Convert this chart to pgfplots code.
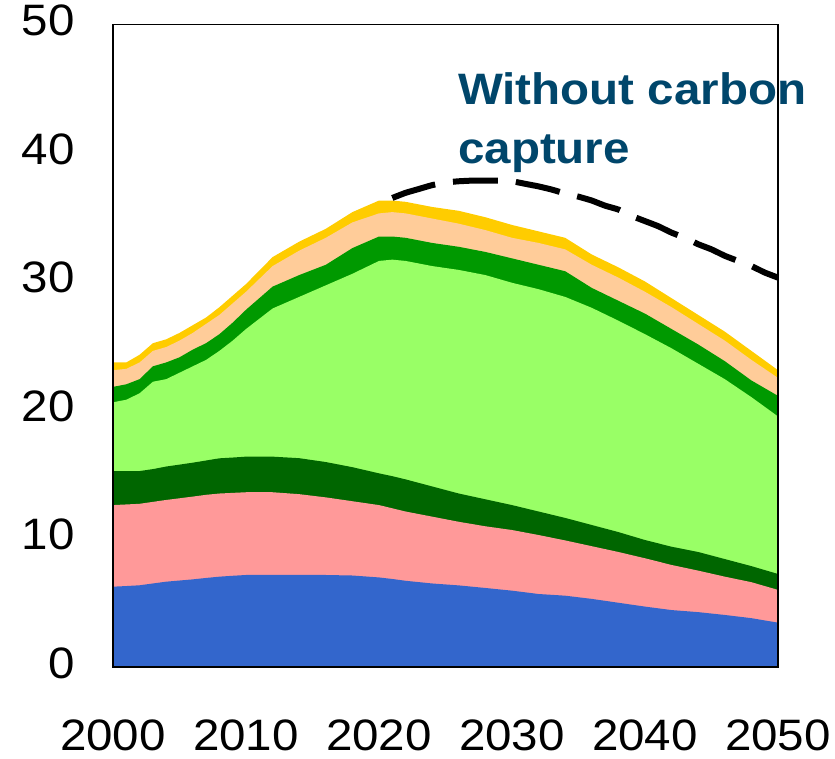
\documentclass[border=0pt]{standalone}
\usepackage{fontspec}
\setmainfont{Liberation Sans}[FakeStretch=1.08]
\usepackage{pgfplots}
\pgfplotsset{compat=1.18}
\usepackage{pgfplotstable}

\definecolor{cblue}{RGB}{51,102,204}
\definecolor{cpink}{RGB}{255,153,153}
\definecolor{cdkgreen}{RGB}{0,102,0}
\definecolor{cltgreen}{RGB}{153,255,102}
\definecolor{cgreen}{RGB}{0,153,0}
\definecolor{cpeach}{RGB}{255,204,153}
\definecolor{cgold}{RGB}{255,204,0}
\definecolor{ctitle}{RGB}{0,70,107}

% cumulative tops of the stacked layers
\pgfplotstableread{
year B1   B2    B3    B4    B5   B6   B7
2000 6.25 12.6  15.25 20.6  21.8 23.1 23.7
2001 6.30 12.65 15.25 20.8  22.0 23.2 23.7
2002 6.36 12.7  15.25 21.3  22.4 23.7 24.3
2003 6.50 12.85 15.4  22.2  23.4 24.6 25.2
2004 6.64 13.0  15.6  22.4  23.7 24.9 25.5
2005 6.73 13.13 15.75 22.9  24.1 25.4 26.0
2006 6.82 13.26 15.9  23.4  24.7 26.0 26.6
2007 6.93 13.4  16.07 23.9  25.2 26.7 27.2
2008 7.03 13.5  16.24 24.6  25.9 27.4 28.0
2009 7.10 13.55 16.3  25.4  26.8 28.3 28.9
2010 7.16 13.6  16.37 26.3  27.8 29.2 29.8
2012 7.16 13.6  16.37 27.9  29.6 31.2 31.9
2014 7.16 13.45 16.25 28.8  30.5 32.4 33.1
2016 7.16 13.2  15.95 29.7  31.3 33.4 34.1
2018 7.12 12.9  15.55 30.6  32.6 34.6 35.4
2020 6.97 12.6  15.07 31.6  33.5 35.3 36.3
2021 6.85 12.35 14.85 31.7  33.5 35.4 36.3
2022 6.71 12.1  14.6  31.6  33.4 35.3 36.2
2024 6.50 11.7  14.05 31.2  33.0 34.9 35.8
2026 6.35 11.3  13.5  30.9  32.7 34.5 35.5
2028 6.15 10.95 13.05 30.5  32.3 34.0 35.0
2030 5.94 10.66 12.6  29.9  31.8 33.4 34.4
2032 5.68 10.27 12.1  29.4  31.3 33.0 33.9
2034 5.55 9.85  11.6  28.8  30.8 32.5 33.4
2036 5.30 9.4   11.05 27.95 29.5 31.3 32.1
2038 5.00 8.95  10.5  26.95 28.5 30.3 31.1
2040 4.70 8.46  9.88  25.9  27.5 29.2 30.0
2042 4.43 7.94  9.36  24.8  26.3 28.0 28.7
2044 4.27 7.5   8.95  23.6  25.1 26.7 27.4
2046 4.05 7.03  8.4   22.4  23.8 25.4 26.1
2048 3.80 6.6   7.85  21.0  22.3 23.9 24.6
2050 3.45 6.0   7.24  19.5  21.1 22.5 23.1
}\stackdata

% total without carbon capture
\pgfplotstableread{
year total
2021 36.5
2022 36.9
2023 37.2
2024 37.5
2025 37.7
2026 37.8
2027 37.85
2028 37.85
2029 37.85
2030 37.8
2031 37.6
2032 37.4
2033 37.15
2034 36.85
2035 36.6
2036 36.3
2037 35.9
2038 35.6
2039 35.1
2040 34.7
2041 34.3
2042 33.8
2043 33.4
2044 32.9
2045 32.5
2046 32.0
2047 31.6
2048 31.2
2049 30.7
2050 30.3
}\nocapture

\begin{document}
\begin{tikzpicture}
\useasboundingbox (-113pt,-91pt) rectangle (722pt,667pt);
\begin{axis}[
    at={(0,0)}, anchor=south west,
    scale only axis,
    width=665pt, height=642.5pt,
    xmin=2000, xmax=2050, ymin=0, ymax=50,
    xtick={2000,2010,...,2050},
    ytick={0,10,...,50},
    scaled x ticks=false,
    major tick length=0pt,
    axis line style={line width=1.5pt},
    /pgf/number format/assume math mode=true,
    /pgf/number format/1000 sep={},
    tick label style={font=\fontsize{44}{44}\selectfont, inner sep=0pt},
    xticklabel style={anchor=north, yshift=-53pt},
    yticklabel style={anchor=east, xshift=-38pt, yshift=4pt},
    axis on top,
    clip=false,
]
\addplot[draw=none, fill=cgold] table[x=year, y=B7] {\stackdata} \closedcycle;
\addplot[draw=none, fill=cpeach] table[x=year, y=B6] {\stackdata} \closedcycle;
\addplot[draw=none, fill=cgreen] table[x=year, y=B5] {\stackdata} \closedcycle;
\addplot[draw=none, fill=cltgreen] table[x=year, y=B4] {\stackdata} \closedcycle;
\addplot[draw=none, fill=cdkgreen] table[x=year, y=B3] {\stackdata} \closedcycle;
\addplot[draw=none, fill=cpink] table[x=year, y=B2] {\stackdata} \closedcycle;
\addplot[draw=none, fill=cblue] table[x=year, y=B1] {\stackdata} \closedcycle;

\addplot[black, line width=6pt, dash pattern=on 45pt off 18pt, smooth, tension=0.3]
    table[x=year, y=total] {\nocapture};

\node[anchor=base west, inner sep=0pt, text=ctitle,
      font=\bfseries\fontsize{44}{44}\selectfont]
      at (axis cs:2025.94,43.74) {Without carbon};
\node[anchor=base west, inner sep=0pt, text=ctitle,
      font=\bfseries\fontsize{44}{44}\selectfont]
      at (axis cs:2025.94,39.22) {capture};
\end{axis}
\end{tikzpicture}
\end{document}
